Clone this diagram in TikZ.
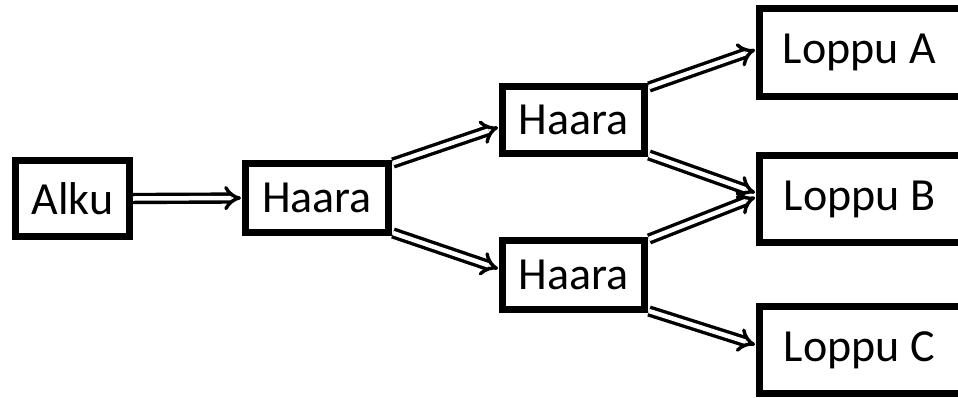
\documentclass[tikz,border=0pt]{standalone}
\usepackage{fontspec}
\setmainfont{Carlito}
\usetikzlibrary{arrows.meta}
\begin{document}
\begin{tikzpicture}[x=1pt,y=-1pt,
  box/.style={draw=black, line width=7pt, fill=white, inner sep=0pt, font=\fontsize{46}{52}\selectfont, anchor=center},
  dbl/.style={draw=black, line width=3.4pt, double=white, double distance=4.5pt, -{Implies[scale=1.5]}, shorten >=1pt}]
\useasboundingbox (0,0) rectangle (958,397);
\fill[white] (0,0) rectangle (958,397);
\node[box, minimum width=114pt, minimum height=76pt] (alku) at (72.5,198.5) {Alku};
\node[box, minimum width=143pt, minimum height=69pt] (h1) at (317,198) {Haara};
\node[box, minimum width=142pt, minimum height=67pt] (h2) at (573.5,120) {Haara};
\node[box, minimum width=142pt, minimum height=69pt] (h3) at (573.5,275) {Haara};
\node[box, minimum width=220pt, minimum height=88pt] (la) at (869.5,52.5) {\hspace*{-20pt}Loppu A};
\node[box, minimum width=220pt, minimum height=87pt] (lb) at (869.5,199) {\hspace*{-20pt}Loppu B};
\node[box, minimum width=220pt, minimum height=87pt] (lc) at (869.5,350) {\hspace*{-20pt}Loppu C};
\draw[dbl] (alku.east) -- (h1.west);
\draw[dbl] ([xshift=1pt,yshift=-3pt]h1.north east) -- ([yshift=-7pt]h2.west);
\draw[dbl] ([xshift=1pt,yshift=3pt]h1.south east) -- ([yshift=6pt]h3.west);
\draw[dbl] ([xshift=1pt,yshift=-4pt]h2.north east) -- ([yshift=3pt]la.west);
\draw[dbl] ([xshift=1pt,yshift=2pt]h2.south east) -- ([yshift=6pt]lb.west);
\draw[dbl] ([xshift=1pt,yshift=-2pt]h3.north east) -- ([yshift=2pt]lb.west);
\draw[dbl] ([xshift=1pt,yshift=2pt]h3.south east) -- ([yshift=5pt]lc.west);
\end{tikzpicture}
\end{document}
